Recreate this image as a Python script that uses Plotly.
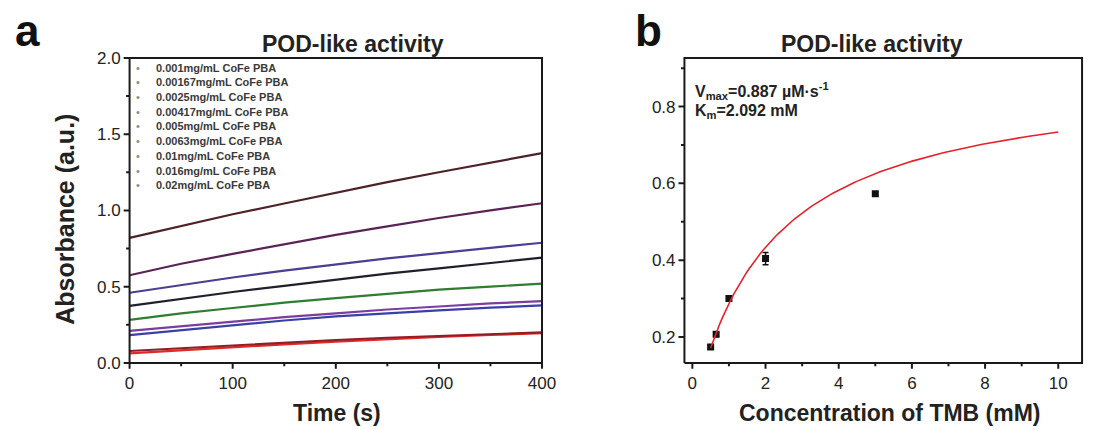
import numpy as np
import plotly.graph_objects as go

# ---------------- Panel a: kinetic curves ----------------
time_s = [0, 50, 100, 150, 200, 250, 300, 350, 400]

conc_labels = [
    "0.001mg/mL CoFe PBA",
    "0.00167mg/mL CoFe PBA",
    "0.0025mg/mL CoFe PBA",
    "0.00417mg/mL CoFe PBA",
    "0.005mg/mL CoFe PBA",
    "0.0063mg/mL CoFe PBA",
    "0.01mg/mL CoFe PBA",
    "0.016mg/mL CoFe PBA",
    "0.02mg/mL CoFe PBA",
]

abs_0001 = [0.062, 0.083, 0.103, 0.122, 0.140, 0.156, 0.170, 0.183, 0.195]
abs_000167 = [0.078, 0.097, 0.115, 0.133, 0.150, 0.165, 0.178, 0.190, 0.200]
abs_00025 = [0.182, 0.215, 0.248, 0.278, 0.305, 0.327, 0.345, 0.362, 0.377]
abs_000417 = [0.210, 0.240, 0.270, 0.300, 0.325, 0.350, 0.370, 0.390, 0.405]
abs_0005 = [0.282, 0.325, 0.360, 0.395, 0.425, 0.455, 0.480, 0.500, 0.520]
abs_00063 = [0.374, 0.420, 0.465, 0.505, 0.545, 0.585, 0.620, 0.655, 0.690]
abs_001 = [0.460, 0.510, 0.560, 0.605, 0.645, 0.685, 0.720, 0.755, 0.788]
abs_0016 = [0.575, 0.650, 0.715, 0.780, 0.840, 0.895, 0.950, 1.000, 1.047]
abs_002 = [0.820, 0.900, 0.975, 1.045, 1.115, 1.185, 1.250, 1.315, 1.376]

series_a = [abs_0001, abs_000167, abs_00025, abs_000417, abs_0005,
            abs_00063, abs_001, abs_0016, abs_002]
colors_a = ["#e02a2a", "#8e1f24", "#3b40a6", "#7a3f9e", "#2f7d32",
            "#20202c", "#4a3f92", "#5a2356", "#4e2228"]

# ---------------- Panel b: Michaelis-Menten ----------------
tmb_mM = [0.5, 0.65, 1, 2, 5]
tmb_abs = [0.174, 0.207, 0.300, 0.404, 0.573]
tmb_err = [0.005, 0.006, 0.006, 0.016, 0.005]
VMAX = 0.887
KM = 2.092

fit_x = [float(v) for v in np.linspace(0.5, 10, 120)]
fit_y = [VMAX * v / (KM + v) for v in fit_x]

FONT = "Arial"
INK = "#1a1a1a"
W, H = 1099, 430

# framed box of each panel (pixels) and the value range it spans
box_top, box_bot = 52, 363.5
xa_l, xa_r = 131, 548
xb_l, xb_r = 692, 1094
XR_A, YR_A = [0, 400], [0, 2.0]
XR_B, YR_B = [-0.216, 10.65], [0.1324, 0.9267]

# the subplot area reaches a little past the box so that the box outline
# and the outward tick marks fit inside it
PAD_OUT, PAD_IN = 8, 2


def padded(rng, lo_px, hi_px, pad_lo, pad_hi):
    per_px = (rng[1] - rng[0]) / (hi_px - lo_px)
    return [rng[0] - pad_lo * per_px, rng[1] + pad_hi * per_px], per_px


xr_a, xpp_a = padded(XR_A, xa_l, xa_r, PAD_OUT, PAD_IN)
yr_a, ypp_a = padded(YR_A, 0, box_bot - box_top, PAD_OUT, PAD_IN)
xr_b, xpp_b = padded(XR_B, xb_l, xb_r, PAD_OUT, PAD_IN)
yr_b, ypp_b = padded(YR_B, 0, box_bot - box_top, PAD_OUT, PAD_IN)

xdom_a = [(xa_l - PAD_OUT) / W, (xa_r + PAD_IN) / W]
xdom_b = [(xb_l - PAD_OUT) / W, (xb_r + PAD_IN) / W]
ydom = [(H - box_bot - PAD_OUT) / H, (H - box_top + PAD_IN) / H]

fig = go.Figure()

# ---- data ----
for vals, col in zip(series_a, colors_a):
    fig.add_trace(go.Scatter(
        x=time_s, y=vals, mode="lines", line=dict(color=col, width=2.2),
        xaxis="x", yaxis="y",
    ))

fig.add_trace(go.Scatter(
    x=tmb_mM, y=tmb_abs, mode="markers",
    marker=dict(symbol="square", size=7, color="#111111"),
    error_y=dict(type="data", array=tmb_err, visible=True,
                 color="#111111", thickness=1.5, width=3),
    xaxis="x2", yaxis="y2",
))
fig.add_trace(go.Scatter(
    x=fit_x, y=fit_y, mode="lines",
    line=dict(color="#e8202a", width=1.6),
    xaxis="x2", yaxis="y2",
))


# ---- box outline and tick marks ----
def stroke(xs, ys, xa, ya):
    fig.add_trace(go.Scatter(
        x=xs, y=ys, mode="lines", line=dict(color=INK, width=2),
        xaxis=xa, yaxis=ya,
    ))


def box(xr, yr, xa, ya):
    stroke([xr[0], xr[1], xr[1], xr[0], xr[0]],
           [yr[0], yr[0], yr[1], yr[1], yr[0]], xa, ya)


def xticks(values, yr, ypp, length, xa, ya):
    for v in values:
        stroke([v, v], [yr[0], yr[0] - length * ypp], xa, ya)


def yticks(values, xr, xpp, length, xa, ya):
    for v in values:
        stroke([xr[0], xr[0] - length * xpp], [v, v], xa, ya)


box(XR_A, YR_A, "x", "y")
xticks([0, 100, 200, 300, 400], YR_A, ypp_a, 6, "x", "y")
xticks([50, 150, 250, 350], YR_A, ypp_a, 3.5, "x", "y")
yticks([0, 0.5, 1.0, 1.5, 2.0], XR_A, xpp_a, 6, "x", "y")
yticks([0.25, 0.75, 1.25, 1.75], XR_A, xpp_a, 3.5, "x", "y")

box(XR_B, YR_B, "x2", "y2")
xticks([0, 2, 4, 6, 8, 10], YR_B, ypp_b, 6, "x2", "y2")
xticks([1, 3, 5, 7, 9], YR_B, ypp_b, 3.5, "x2", "y2")
yticks([0.2, 0.4, 0.6, 0.8], XR_B, xpp_b, 6, "x2", "y2")
yticks([0.3, 0.5, 0.7, 0.9], XR_B, xpp_b, 3.5, "x2", "y2")

axis_common = dict(
    showline=False, ticks="", showgrid=False, zeroline=False,
    tickprefix="<b>", ticksuffix="</b>",
    tickfont=dict(family=FONT, size=17, color="#222222"),
)

fig.update_layout(
    width=W, height=H,
    margin=dict(l=0, r=0, t=0, b=0),
    showlegend=False,
    paper_bgcolor="white", plot_bgcolor="white",
    xaxis=dict(domain=xdom_a, range=xr_a, tickvals=[0, 100, 200, 300, 400],
               anchor="y", **axis_common),
    yaxis=dict(domain=ydom, range=yr_a, tickvals=[0, 0.5, 1.0, 1.5, 2.0],
               tickformat=".1f", anchor="x", **axis_common),
    xaxis2=dict(domain=xdom_b, range=xr_b, tickvals=[0, 2, 4, 6, 8, 10],
                anchor="y2", **axis_common),
    yaxis2=dict(domain=ydom, range=yr_b, tickvals=[0.2, 0.4, 0.6, 0.8],
                tickformat=".1f", anchor="x2", **axis_common),
)

annotations = []


def label(text, px, py, size, color="#222222", anchor="center", angle=0):
    annotations.append(dict(
        text=text, x=px / W, y=(H - py) / H, xref="paper", yref="paper",
        xanchor=anchor, yanchor="middle", showarrow=False, textangle=angle,
        font=dict(family=FONT, size=size, color=color),
    ))


# panel letters, titles and axis titles
label("<b>a</b>", 28, 24, 44, "#111111")
label("<b>b</b>", 656, 24, 44, "#111111")
label("<b>POD-like activity</b>", 357, 38, 23)
label("<b>POD-like activity</b>", 882, 38, 23)
label("<b>Time (s)</b>", 341, 415, 23)
label("<b>Concentration of TMB (mM)</b>", 900, 415, 23)
label("<b>Absorbance (a.u.)</b>", 66, 217, 25, angle=-90)

# legend for panel a, one row per concentration
for i, lab in enumerate(conc_labels):
    ypix = 62 + 15 * i
    label("\u2022", 140, ypix, 11, "#8a8a8a")
    label("<b>%s</b>" % lab, 156, ypix, 11, "#3a3a3a", anchor="left")

# fitted kinetic parameters
label("<b>V<sub>max</sub>=%.3f \u00b5M\u00b7s<sup>-1</sup></b>" % VMAX, 701, 86, 16, anchor="left")
label("<b>K<sub>m</sub>=%.3f mM</b>" % KM, 701, 107, 16, anchor="left")

fig.update_layout(annotations=annotations)

fig.write_html("out.html")
